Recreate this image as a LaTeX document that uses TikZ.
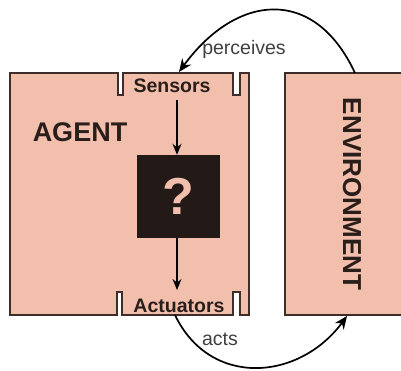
\documentclass[tikz,border=0pt]{standalone}
\usepackage{fontspec}
\setmainfont{Liberation Sans}
\usetikzlibrary{arrows.meta}
\definecolor{pinkfill}{HTML}{F2BFAC}
\definecolor{edgecol}{HTML}{3D2E2A}
\definecolor{inkcol}{HTML}{2A1E1B}
\definecolor{boxcol}{HTML}{231A17}
\tikzset{
  panel/.style={draw=edgecol, line width=1.8pt, fill=pinkfill, line join=miter},
  lbl/.style={font=\bfseries\fontsize{19.5}{22}\selectfont, text=inkcol, inner sep=0pt, anchor=base},
  arrlbl/.style={font=\fontsize{19.5}{22}\selectfont, text=black!75, inner sep=0pt, anchor=base},
  flow/.style={line width=1.7pt, draw=black, -{Stealth[length=13pt,width=11pt]}},
  innerflow/.style={line width=1.5pt, draw=black, -{Stealth[length=11pt,width=9pt]}},
}
\begin{document}
\begin{tikzpicture}[x=1pt,y=-1pt]
\useasboundingbox (0,0) rectangle (401,371);
\clip (0,0) rectangle (401,371);
% agent panel with sensor and actuator notches
\draw[panel] (10,73) -- (118,73) -- (118,95) -- (123,95) -- (123,73) -- (233,73) -- (233,95) -- (240,95) -- (240,73) -- (249,73)
  -- (249,315) -- (240,315) -- (240,292) -- (233,292) -- (233,315) -- (122,315) -- (122,292) -- (117,292) -- (117,315) -- (10,315) -- cycle;
% environment panel
\draw[panel] (285,73) rectangle (410,315);
\node[font=\bfseries\fontsize{26}{28}\selectfont, text=inkcol, rotate=-90, inner sep=0pt] (envlbl) at (352,194) {ENVIRONMENT};
\node[font=\bfseries\fontsize{27}{30}\selectfont, text=inkcol, inner sep=0pt, anchor=base] (agent) at (80,142) {AGENT};
\node[lbl] (sens) at (172,93) {Sensors};
\node[lbl] (act) at (179,312) {Actuators};
\node[fill=boxcol, minimum width=83pt, minimum height=83pt, inner sep=0pt, text=pinkfill,
      font=\bfseries\fontsize{52}{56}\selectfont] (box) at (178.5,196.5) {?};
% connector end points
\coordinate (senstop) at (179,72);
\coordinate (envtop) at (355,73);
\coordinate (actbot) at (175,315);
\coordinate (envbot) at (347,316);
\coordinate (sensout) at (177,100);
\coordinate (actin) at (177,290);
% arrows
\draw[innerflow] (sensout) -- (sensout |- box.north);
\draw[innerflow] (actin |- box.south) -- (actin);
\draw[flow] (envtop) .. controls (314,-15) and (236,-6) .. (senstop);
\draw[flow] (actbot) .. controls (210,388) and (299,381) .. (envbot);
\node[arrlbl] (perc) at (244,55) {perceives};
\node[arrlbl] (acts) at (220,345) {acts};
\end{tikzpicture}
\end{document}
